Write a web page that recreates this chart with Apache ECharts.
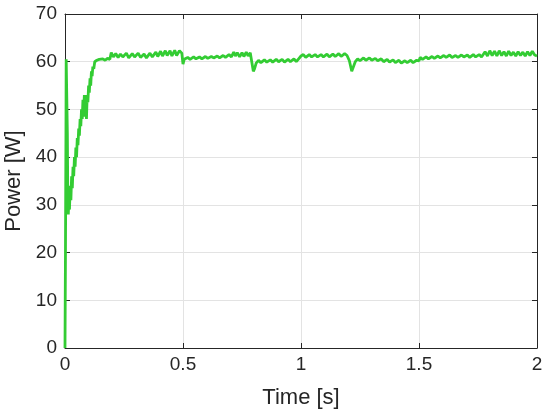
<!DOCTYPE html>
<html><head><meta charset="utf-8">
<script src="https://cdn.jsdelivr.net/npm/echarts@6/dist/echarts.min.js"></script>
<style>html,body{margin:0;padding:0;background:#fff}#c{width:550px;height:417px}</style>
</head><body><div id="c"></div>
<script>
var xTicks = [0, 0.5, 1, 1.5, 2];
var yTicks = [0, 10, 20, 30, 40, 50, 60, 70];
var timeS = [
0,0.002,0.004,0.005,0.008,0.010,0.012,0.014,0.017,0.019,0.022,0.025,0.028,0.031,0.034,0.037,0.040,0.043,0.046,0.049,0.052,0.055,0.058,0.061,0.064,0.067,0.070,0.073,0.076,0.079,0.082,0.085,0.088,0.091,0.094,0.097,0.100,0.103,0.106,0.109,0.112,0.115,0.118,0.122,0.126,0.130,0.135,0.140,0.145,0.150,0.160,0.170,0.180,0.190,0.196,
0.205,0.215,0.225,0.235,0.245,0.26,0.27,0.285,0.295,0.31,0.32,0.335,0.345,0.36,0.37,0.385,0.393,0.405,0.413,0.425,0.433,0.445,0.453,0.465,0.473,0.485,0.495,0.500,0.505,0.51,0.52,0.53,0.545,0.555,0.57,0.58,0.595,0.605,0.62,0.63,0.645,0.655,0.67,0.68,0.695,0.705,0.715,0.722,0.73,0.74,0.75,0.758,0.768,0.776,0.785,0.793,0.798,0.803,0.81,0.82,0.83,0.845,0.855,0.87,0.88,0.895,0.905,0.92,0.93,0.945,0.955,0.97,0.98,0.99,0.997,
1.0,1.01,1.02,1.035,1.045,1.06,1.07,1.085,1.095,1.11,1.12,1.135,1.145,1.16,1.17,1.185,1.195,1.205,1.215,1.222,1.23,1.24,1.25,1.265,1.275,1.29,1.30,1.315,1.325,1.34,1.35,1.365,1.375,1.39,1.40,1.415,1.425,1.44,1.45,1.465,1.475,1.49,1.5,1.505,1.515,1.53,1.54,1.555,1.565,1.58,1.59,1.605,1.615,1.63,1.64,1.655,1.665,1.68,1.69,1.705,1.715,1.73,1.74,1.755,1.765,1.78,1.79,1.80,1.81,1.82,1.83,1.84,1.85,1.86,1.87,1.88,1.89,1.90,1.91,1.92,1.93,1.94,1.95,1.96,1.97,1.98,1.99,2.0
];
var powerW = [
0,20,45,60.5,60.3,45,30,28,32,29,34,31,36,33.5,38,36,40,38,42,40,44,42.5,46,44.5,48,46.5,50,48,52,49.5,53,48.5,52.5,48,53,51.5,55,53.5,56.5,55,58,57,59,58.5,60,59.6,60.3,60,60.5,60.1,60.6,60.3,60.7,60.5,61.9,
61.0,61.7,60.9,61.6,61.0,61.8,60.8,61.7,61.0,61.8,60.9,61.6,60.8,61.8,61.0,62.0,61.1,62.2,61.2,62.3,61.3,62.3,61.2,62.4,61.3,62.3,61.8,59.5,60.5,60.2,60.9,60.5,61.0,60.6,61.0,60.6,61.1,60.7,61.1,60.8,61.2,60.8,61.3,60.9,61.5,61.0,62.0,61.2,61.9,61.0,61.9,61.1,62.0,61.2,61.9,61.6,58.0,58.5,59.7,60.3,59.8,60.4,59.9,60.4,59.9,60.5,60.0,60.5,59.9,60.5,60.0,60.6,60.0,60.6,60.2,
61.2,61.5,60.9,61.5,61.0,61.5,61.0,61.5,61.0,61.6,61.0,61.6,61.1,61.7,61.1,61.7,61.3,60.2,58.0,58.3,60.0,60.6,60.2,60.8,60.3,60.8,60.3,60.7,60.2,60.6,60.0,60.5,59.9,60.4,59.8,60.3,59.7,60.2,59.8,60.3,59.8,60.3,60.2,60.9,60.5,61.0,60.6,61.1,60.7,61.2,60.8,61.3,60.9,61.4,60.9,61.3,60.9,61.4,61.0,61.4,60.9,61.5,61.0,61.5,61.0,62.1,61.2,62.3,61.3,62.2,61.2,62.3,61.3,62.1,61.2,62.2,61.3,62.0,61.2,62.1,61.3,62.0,61.2,62.1,61.3,62.2,61.4,61.2
];
var seriesData = timeS.map(function (t, i) { return [t, powerW[i]]; });
var txt = '#262626';
var font = 'Liberation Sans, Arial, Helvetica, sans-serif';
var chart = echarts.init(document.getElementById('c'), null, {renderer: 'canvas'});
function axBase(extra) {
  var o = {
    type: 'value',
    axisLine: {show: true, onZero: false, lineStyle: {color: txt, width: 1}},
    axisTick: {show: true, inside: true, length: 5, lineStyle: {color: txt}},
    splitLine: {show: false},
    axisLabel: {show: false}
  };
  for (var k in extra) o[k] = extra[k];
  return o;
}
chart.setOption({
  animation: false,
  backgroundColor: '#fff',
  grid: {left: 65, right: 13, top: 14, bottom: 69, containLabel: false, outerBoundsMode: 'none'},
  xAxis: [
    axBase({min: xTicks[0], max: xTicks[xTicks.length - 1], interval: 0.5, position: 'bottom',
      name: 'Time [s]', nameLocation: 'middle', nameGap: 39,
      nameTextStyle: {color: txt, fontSize: 22, fontFamily: font},
      axisLabel: {show: true, color: txt, fontSize: 19, fontFamily: font, margin: 7},
      splitLine: {show: true, lineStyle: {color: '#e3e3e3', width: 1}}}),
    axBase({min: xTicks[0], max: xTicks[xTicks.length - 1], interval: 0.5, position: 'top'})
  ],
  yAxis: [
    axBase({min: yTicks[0], max: yTicks[yTicks.length - 1], interval: 10, position: 'left',
      name: 'Power [W]', nameLocation: 'middle', nameGap: 33,
      nameTextStyle: {color: txt, fontSize: 22, fontFamily: font},
      axisLabel: {show: true, color: txt, fontSize: 19, fontFamily: font, margin: 8},
      splitLine: {show: true, lineStyle: {color: '#e3e3e3', width: 1}}}),
    axBase({min: yTicks[0], max: yTicks[yTicks.length - 1], interval: 10, position: 'right'})
  ],
  series: [{
    type: 'line',
    data: seriesData,
    showSymbol: false,
    symbol: 'none',
    lineStyle: {color: '#33cc33', width: 2.8},
    itemStyle: {color: '#33cc33'}
  }]
});
</script></body></html>
